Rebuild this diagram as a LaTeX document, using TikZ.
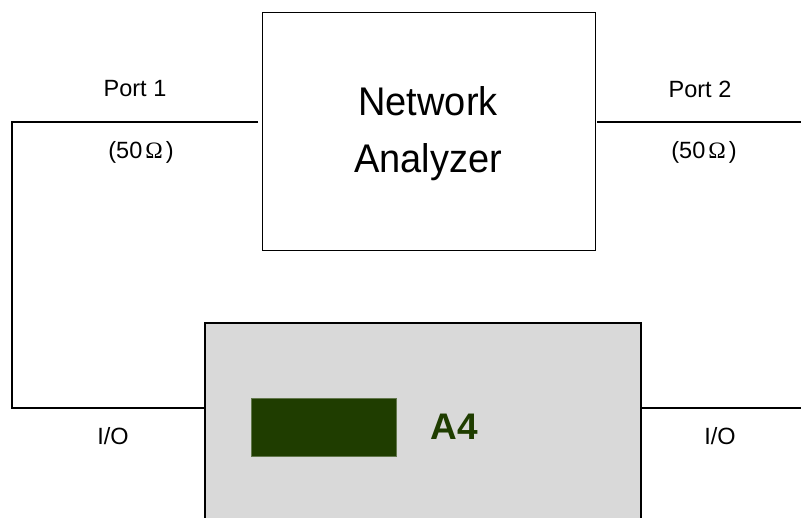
\documentclass[tikz,border=0pt]{standalone}
\usepackage{fontspec}
\setmainfont{Liberation Sans}
\newfontfamily\omegafont{Liberation Serif}
\definecolor{boxgray}{HTML}{D9D9D9}
\definecolor{darkgreen}{HTML}{1F3D00}
\begin{document}
\begin{tikzpicture}[x=1pt,y=-1pt,
  wire/.style={line width=1.3pt},
  lbl/.style={font=\fontsize{23.5}{26}\selectfont, inner sep=0pt},
  blk/.style={draw, line width=1.3pt, inner sep=0pt}]
\useasboundingbox (0,0) rectangle (801,518);
% Network analyzer
\node[blk, minimum width=333pt, minimum height=238pt, anchor=north west] (na) at (262,12) {};
\node[font=\fontsize{40}{57}\selectfont, align=center, inner sep=0pt, xscale=0.95] (natext) at (428,134) {Network\\Analyzer};
% DUT box
\path[fill=boxgray, draw=black, line width=1.3pt] (205,518) -- (205,323) -- (641,323) -- (641,518);
\coordinate (dutL) at (205,408);
\coordinate (dutR) at (641,408);
\node[fill=darkgreen, draw=darkgreen!70!white, minimum width=145pt, minimum height=58pt, inner sep=0pt, anchor=north west] (chip) at (251,398) {};
\node[font=\fontsize{37}{40}\selectfont\bfseries, text=darkgreen, inner sep=0pt] (a4) at (454,427) {A4};
% wires
\coordinate (p1a) at (258,122);
\coordinate (p1b) at (12,122);
\coordinate (p1c) at (12,408);
\draw[wire] (p1a) -- (p1b) -- (p1c) -- (dutL);
\coordinate (p2a) at (597,122);
\coordinate (p2b) at (801,122);
\draw[wire] (p2a) -- (p2b);
\coordinate (io2) at (801,408);
\draw[wire] (dutR) -- (io2);
% labels
\node[lbl] (port1) at (135,89) {Port 1};
\node[lbl] (ohm1) at (141,152) {(50\kern3pt{\omegafont Ω}\kern3pt)};
\node[lbl] (port2) at (700,89) {Port 2};
\node[lbl] (ohm2) at (704,152) {(50\kern3pt{\omegafont Ω}\kern3pt)};
\node[lbl] (io1) at (113,436) {I/O};
\node[lbl] (io2t) at (720,436) {I/O};
\end{tikzpicture}
\end{document}
